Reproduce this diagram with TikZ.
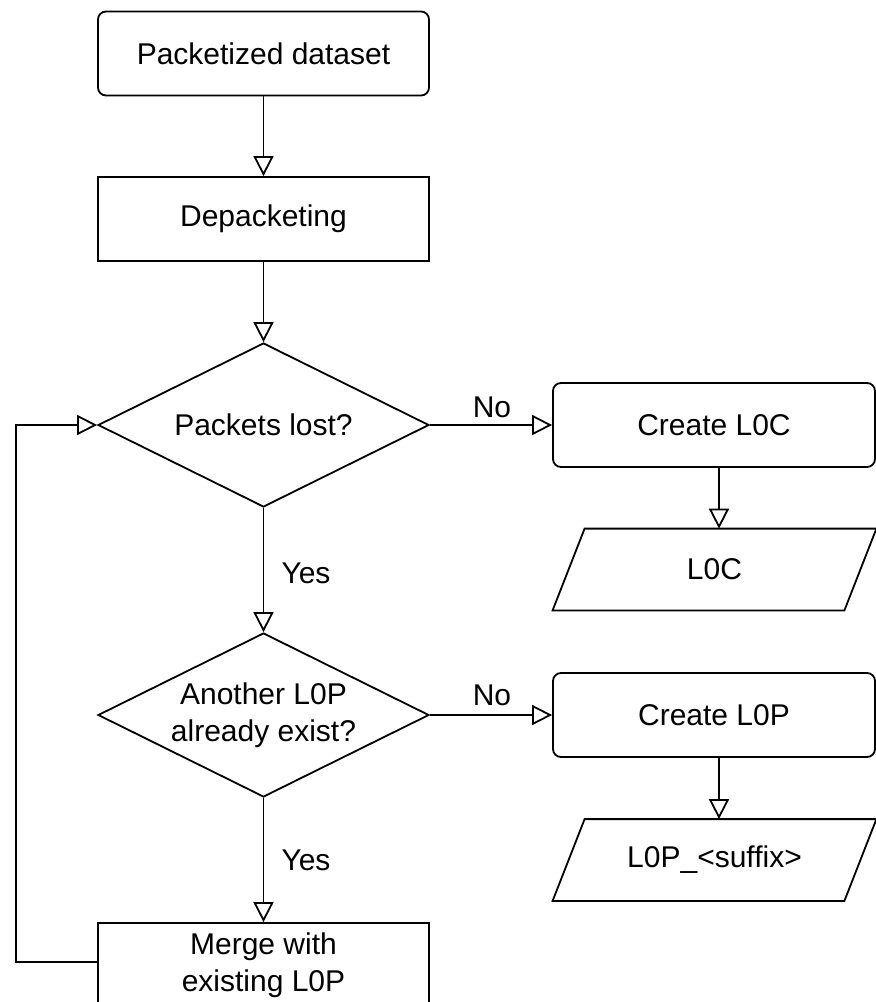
\documentclass[tikz,border=0pt]{standalone}
\usepackage{fontspec}
\setmainfont{Liberation Sans}
\usetikzlibrary{shapes.geometric,arrows.meta}
\begin{document}
\begin{tikzpicture}[x=0.5pt,y=-0.5pt,
  every node/.style={font=\fontsize{15}{18.3}\selectfont, inner sep=0pt, align=center},
  proc/.style={draw, line width=0.9pt, minimum width=165.5pt, minimum height=42pt},
  rproc/.style={proc, rounded corners=4pt},
  sideproc/.style={rproc, minimum width=161pt},
  decide/.style={draw, diamond, aspect=2, line width=0.9pt, minimum width=165.5pt, minimum height=82pt},
  datum/.style={minimum width=161.5pt, minimum height=40.5pt},
  slanted/.style={line width=0.9pt},
  flow/.style={line width=0.9pt, -{Triangle[open,length=10pt,width=10pt]}}
]
\useasboundingbox (0,0) rectangle (876,1002);

% main column
\node[rproc]  (pd)  at (263.5,53.5) {Packetized dataset};
\node[proc]   (dp)  at (263.5,219)  {Depacketing};
\node[decide] (d1)  at (263.5,425)  {Packets lost?};
\node[decide] (d2)  at (263.5,715)  {Another L0P\\already exist?};
\node[proc]   (mg)  at (263.5,965)  {Merge with\\existing L0P};

% side column
\node[sideproc] (c0) at (714,425)     {Create L0C};
\node[datum]    (o0) at (714.5,569.5) {L0C};
\node[sideproc] (c1) at (714,715)     {Create L0P};
\node[datum]    (o1) at (714.5,860)   {L0P\_<suffix>};

% data outputs drawn as parallelograms
\foreach \o in {o0,o1}
  \draw[slanted] (\o.south west) -- ([xshift=-16pt]\o.south east)
    -- (\o.north east) -- ([xshift=16pt]\o.north west) -- cycle;

% branch labels
\node (no0)  at (492,407) {No};
\node (yes0) at (306,573) {Yes};
\node (no1)  at (492,695) {No};
\node (yes1) at (306,860) {Yes};

% connectors
\draw[flow] (pd) -- (dp);
\draw[flow] (dp) -- (d1);
\draw[flow] (d1) -- (c0);
\draw[flow] (d1) -- (d2);
\draw[flow] (d2) -- (c1);
\draw[flow] (d2) -- (mg);
\draw[flow] ([xshift=2.5pt]c0.south) -- ([xshift=2.5pt]c0.south |- o0.north);
\draw[flow] ([xshift=2.5pt]c1.south) -- ([xshift=2.5pt]c1.south |- o1.north);

% loop back from the merge step
\coordinate (back) at (16,962);
\draw[flow] (mg.west |- back) -- (back) |- (d1.west);
\end{tikzpicture}
\end{document}
